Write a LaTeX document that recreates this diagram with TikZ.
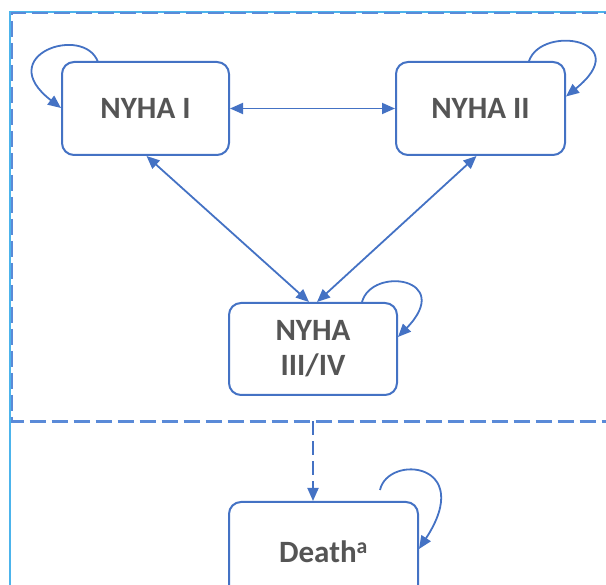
\documentclass[tikz,border=0pt]{standalone}
\usepackage{fontspec}
\setmainfont{Carlito}
\usetikzlibrary{arrows.meta}
\definecolor{lineblue}{HTML}{4472C4}
\definecolor{dashblue}{HTML}{5A8AD8}
\definecolor{frameblue}{HTML}{4CB4EC}
\definecolor{textgray}{HTML}{555555}
\tikzset{
  statebox/.style={draw=lineblue, line width=2pt, rounded corners=12pt, fill=white,
    font=\bfseries\fontsize{31}{36}\selectfont, text=textgray, align=center, inner sep=0pt},
  conn/.style={draw=lineblue, line width=1.8pt, -{Triangle[length=13pt,width=11pt]}},
  biconn/.style={draw=lineblue, line width=1.8pt, {Triangle[length=13pt,width=11pt]}-{Triangle[length=13pt,width=11pt]}},
  dashline/.style={draw=dashblue, line width=2.2pt, dash pattern=on 16pt off 6pt},
}
\begin{document}
\begin{tikzpicture}[x=1pt,y=-1pt]
\useasboundingbox (0,0) rectangle (606,585);
\clip (0,0) rectangle (606,585);
% outer frame
\draw[frameblue, line width=2.2pt] (10,600) -- (10,12) -- (620,12);
% dashed group
\draw[dashline] (620,13) -- (12,13) -- (12,421.5) -- (620,421.5);
\coordinate (dd) at (313,421.5);
% boxes
\node[statebox, minimum width=167pt, minimum height=93pt] (n1) at (145.5,108.5) {NYHA I};
\node[statebox, minimum width=169pt, minimum height=93pt] (n2) at (480.5,108.5) {NYHA II};
\node[statebox, minimum width=168pt, minimum height=92pt] (n3) at (313,349) {NYHA\\[-1pt]III/IV};
\node[statebox, minimum width=189pt, minimum height=100pt] (d) at (323.5,552) {Death\textsuperscript{a}};
% connectors
\draw[biconn] (n1.east) -- (n2.west);
\draw[biconn] ([xshift=1pt]n1.south) -- ([xshift=-4pt]n3.north);
\draw[biconn] ([xshift=-4pt]n2.south) -- ([xshift=4pt]n3.north);
\draw[conn, dash pattern=on 14pt off 6pt] (dd) -- (dd |- d.north);
% self loops
\coordinate (l1s) at (98,62);
\draw[conn] (l1s) .. controls (84,24) and (-8,55) .. (n1.west |- 0,108);
\coordinate (l2s) at (529,61);
\draw[conn] (l2s) .. controls (542,24) and (636,40) .. ([yshift=12pt]n2.east);
\coordinate (l3s) at (362,302);
\draw[conn] (l3s) .. controls (372,266) and (455,278) .. ([yshift=12pt]n3.east);
\coordinate (l4s) at (380,490);
\draw[conn] (l4s) .. controls (388,454) and (476,462) .. (d.east |- 0,549);
\end{tikzpicture}
\end{document}
